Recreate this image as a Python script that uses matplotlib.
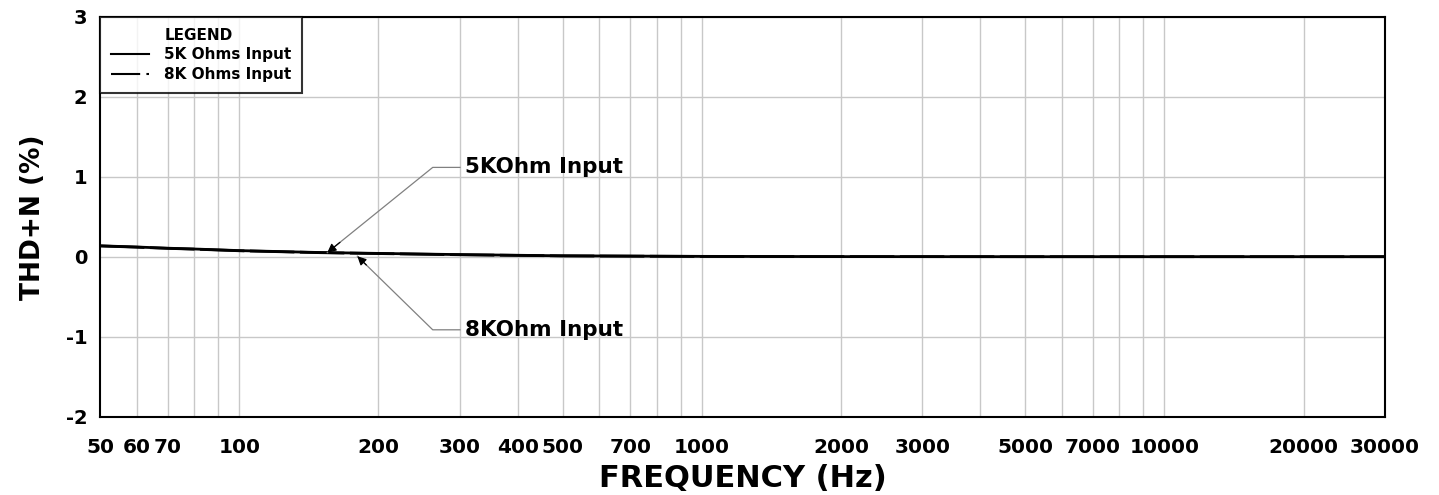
import matplotlib
matplotlib.use("Agg")
import matplotlib.pyplot as plt
from matplotlib.lines import Line2D
from matplotlib.ticker import FixedLocator, NullFormatter, FixedFormatter

plt.rcParams['font.family'] = ['DejaVu Sans']
plt.rcParams['font.weight'] = 'bold'

freq = [50, 60, 70, 80, 100, 150, 200, 300, 500, 1000, 2000, 5000, 10000, 20000, 30000]
thd_5k = [0.14, 0.125, 0.11, 0.10, 0.08, 0.056, 0.045, 0.03, 0.015, 0.008, 0.005, 0.004, 0.004, 0.004, 0.004]
thd_8k = [0.138, 0.123, 0.108, 0.098, 0.078, 0.054, 0.043, 0.028, 0.014, 0.007, 0.005, 0.004, 0.004, 0.004, 0.004]

tick_vals = [50, 60, 70, 100, 200, 300, 400, 500, 700, 1000, 2000, 3000, 5000, 7000, 10000, 20000, 30000]
tick_labels = [str(v) for v in tick_vals]
grid_vals = [60, 70, 80, 90, 100, 200, 300, 400, 500, 600, 700, 800, 900, 1000,
             2000, 3000, 4000, 5000, 6000, 7000, 8000, 9000, 10000, 20000]
y_ticks = [-2, -1, 0, 1, 2, 3]

fig = plt.figure(figsize=(14.39, 4.95), dpi=100)
ax = fig.add_axes([100/1439, 1-417/495, 1285/1439, 400/495])
ax.set_xscale('log')
ax.set_xlim(50, 30000)
ax.set_ylim(-2, 3)

for g in grid_vals:
    ax.axvline(g, color='#c8c8c8', lw=1.0, zorder=1)
for yv in y_ticks:
    ax.axhline(yv, color='#c8c8c8', lw=1.0, zorder=1)

ax.plot(freq, thd_8k, color='black', lw=2.0, dashes=(16, 2), zorder=3)
ax.plot(freq, thd_5k, color='black', lw=2.0, zorder=4)

ax.xaxis.set_major_locator(FixedLocator(tick_vals))
ax.xaxis.set_major_formatter(FixedFormatter(tick_labels))
ax.xaxis.set_minor_locator(FixedLocator([]))
ax.xaxis.set_minor_formatter(NullFormatter())
ax.set_yticks(y_ticks)
ax.set_yticklabels([str(v) for v in y_ticks])
ax.tick_params(axis='x', length=0, pad=15, labelsize=14.5)
ax.tick_params(axis='y', length=0, pad=9, labelsize=14)
for lab in ax.get_xticklabels() + ax.get_yticklabels():
    lab.set_fontweight('bold')

for s in ax.spines.values():
    s.set_linewidth(1.5)
    s.set_color('black')

ax.set_xlabel('FREQUENCY (Hz)', fontsize=22, fontweight='bold', labelpad=5)
ax.set_ylabel('THD+N (%)', fontsize=19, fontweight='bold', labelpad=14)

# Annotations: gray leader lines with small black arrowheads
ann_kw = dict(fontsize=15.5, fontweight='bold', va='center', ha='left')
annots = [
    ('5KOhm Input', (155, 0.055), (262, 1.12), (300, 1.12)),
    ('8KOhm Input', (180, 0.01), (262, -0.91), (300, -0.91)),
]
for label, tip, elbow, end in annots:
    ax.plot([tip[0], elbow[0], end[0]], [tip[1], elbow[1], end[1]],
            color='#808080', lw=0.9, zorder=5)
    f = 0.12
    base = (tip[0] * (elbow[0] / tip[0]) ** f, tip[1] + f * (elbow[1] - tip[1]))
    ax.annotate('', xy=tip, xytext=base,
                arrowprops=dict(arrowstyle='-|>', color='black', lw=0.9,
                                mutation_scale=13, shrinkA=0, shrinkB=0),
                zorder=6)
    ax.text(end[0] * 1.027, end[1], label, **ann_kw)

# Legend
handles = [Line2D([], [], color='none'),
           Line2D([], [], color='black', lw=1.5),
           Line2D([], [], color='black', lw=1.5, dashes=(14, 3))]
labels = ['LEGEND', '5K Ohms Input', '8K Ohms Input']
leg = ax.legend(handles, labels, loc='upper left', bbox_to_anchor=(0, 1),
                borderaxespad=0, frameon=True, fancybox=False,
                prop={'weight': 'bold', 'size': 11}, handlelength=2.5,
                handletextpad=1.0, labelspacing=0.3, borderpad=0.7)
leg.get_frame().set_edgecolor('black')
leg.get_frame().set_linewidth(1.5)
leg.set_zorder(10)

fig.savefig('out.png', dpi=100)
